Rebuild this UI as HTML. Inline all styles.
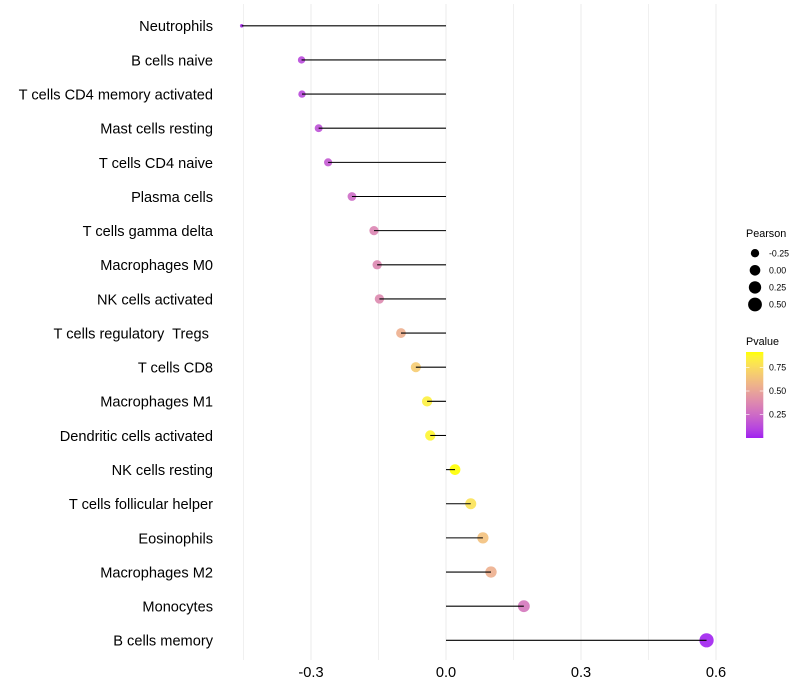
<!DOCTYPE html>
<html lang="en">
<head>
<meta charset="utf-8">
<title>Immune cell correlation lollipop chart</title>
<style>
html,body{margin:0;padding:0;background:#fff;width:800px;height:700px;overflow:hidden}
svg{display:block;font-family:"Liberation Sans",Arial,sans-serif}
text{white-space:pre}
</style>
</head>
<body>
<svg id="chart" xmlns="http://www.w3.org/2000/svg" width="800" height="700" viewBox="0 0 800 700"></svg>
<script>
var categories = ["Neutrophils","B cells naive","T cells CD4 memory activated","Mast cells resting","T cells CD4 naive","Plasma cells","T cells gamma delta","Macrophages M0","NK cells activated","T cells regulatory  Tregs ","T cells CD8","Macrophages M1","Dendritic cells activated","NK cells resting","T cells follicular helper","Eosinophils","Macrophages M2","Monocytes","B cells memory"];
var pearsonValues = [-0.454,-0.321,-0.32,-0.283,-0.262,-0.209,-0.16,-0.153,-0.148,-0.1,-0.067,-0.042,-0.035,0.02,0.055,0.082,0.1,0.173,0.579];
var pvalueValues = [0.03,0.12,0.12,0.15,0.18,0.25,0.36,0.37,0.38,0.55,0.68,0.84,0.87,0.915,0.78,0.63,0.55,0.3,0.005];
var xMajorTicks = [-0.3,0,0.3,0.6];
var xTickLabels = ["-0.3","0.0","0.3","0.6"];
var xMinorTicks = [-0.45,-0.15,0.15,0.45];
var sizeLegendValues = [-0.25,0,0.25,0.5];
var sizeLegendLabels = ["-0.25","0.00","0.25","0.50"];
var colorLegendValues = [0.25,0.5,0.75];
var colorLegendLabels = ["0.25","0.50","0.75"];

var svg = document.getElementById('chart');
var NS = 'http://www.w3.org/2000/svg';

function xScale(v){ return 446 + v * 450; }
function yScale(i){ return 25.8 + i * 34.14; }
function legendYScale(p){ return 438 - p * 94; }

function make(tag, attrs, parent){
  var el = document.createElementNS(NS, tag);
  for (var k in attrs) el.setAttribute(k, attrs[k]);
  (parent || svg).appendChild(el);
  return el;
}

var pearsonMin = Math.min.apply(null, pearsonValues);
var pearsonMax = Math.max.apply(null, pearsonValues);
function radiusScale(v){
  var t = (v - pearsonMin) / (pearsonMax - pearsonMin);
  var size = 1 + 5 * Math.sqrt(Math.max(0, t));
  return 0.375 * (size * 2.845 + 0.95) + 0.35;
}

function rgb2lab(c){
  var f = c.map(function(x){ x /= 255; return x > 0.04045 ? Math.pow((x + 0.055) / 1.055, 2.4) : x / 12.92; });
  var X = (0.4124 * f[0] + 0.3576 * f[1] + 0.1805 * f[2]) / 0.95047;
  var Y = 0.2126 * f[0] + 0.7152 * f[1] + 0.0722 * f[2];
  var Z = (0.0193 * f[0] + 0.1192 * f[1] + 0.9505 * f[2]) / 1.08883;
  function g(t){ return t > 0.008856 ? Math.cbrt(t) : 7.787 * t + 16 / 116; }
  return [116 * g(Y) - 16, 500 * (g(X) - g(Y)), 200 * (g(Y) - g(Z))];
}
function lab2rgb(l){
  var y = (l[0] + 16) / 116, x = l[1] / 500 + y, z = y - l[2] / 200;
  function h(t){ return t * t * t > 0.008856 ? t * t * t : (t - 16 / 116) / 7.787; }
  var X = 0.95047 * h(x), Y = h(y), Z = 1.08883 * h(z);
  var rgb = [3.2406 * X - 1.5372 * Y - 0.4986 * Z, -0.9689 * X + 1.8758 * Y + 0.0415 * Z, 0.0557 * X - 0.204 * Y + 1.057 * Z];
  return rgb.map(function(v){
    v = v > 0.0031308 ? 1.055 * Math.pow(v, 1 / 2.4) - 0.055 : 12.92 * v;
    return Math.round(Math.min(1, Math.max(0, v)) * 255);
  });
}
var labLow = rgb2lab([160,32,240]);
var labHigh = rgb2lab([255,255,0]);
var pMin = 0.0, pMax = 0.915;
function colorScale(p){
  var t = Math.min(1, Math.max(0, (p - pMin) / (pMax - pMin)));
  var c = lab2rgb([0,1,2].map(function(i){ return labLow[i] + (labHigh[i] - labLow[i]) * t; }));
  return 'rgb(' + c.join(',') + ')';
}

/* grid */
xMinorTicks.forEach(function(v){
  var el = make('line', {x1:xScale(v), x2:xScale(v), y1:4, y2:660, stroke:'#f0f0f0', 'stroke-width':1});
  
  
});
xMajorTicks.forEach(function(v){
  var el = make('line', {x1:xScale(v), x2:xScale(v), y1:4, y2:660, stroke:'#ebebeb', 'stroke-width':1});
  
  
});

/* points, stems, labels */
categories.forEach(function(name, i){
  var y = yScale(i);
  var dot = make('circle', {cx:xScale(pearsonValues[i]), cy:y, r:radiusScale(pearsonValues[i]), fill:colorScale(pvalueValues[i]), 'fill-opacity':0.9});
  
  
  var stem = make('line', {x1:xScale(0), x2:xScale(pearsonValues[i]), y1:y, y2:y, stroke:'#000', 'stroke-width':1.07});
  
  
  var label = make('text', {x:213, y:y + 5.4, 'text-anchor':'end', 'font-size':14.6, fill:'#000'});
  label.textContent = name;
  
  
});

/* x tick labels */
xMajorTicks.forEach(function(v, i){
  var t = make('text', {x:xScale(v), y:677, 'text-anchor':'middle', 'font-size':14.6, fill:'#000'});
  t.textContent = xTickLabels[i];
  
  
});

/* size legend */
var sizeTitle = make('text', {x:746, y:237, 'font-size':10.8, fill:'#000'});
sizeTitle.textContent = 'Pearson';


sizeLegendValues.forEach(function(v, i){
  var y = 253.2 + i * 17.1;
  var c = make('circle', {cx:755, cy:y, r:radiusScale(v), fill:'#000'});
  
  
  var t = make('text', {x:769, y:y + 3.1, 'font-size':8.8, fill:'#000'});
  t.textContent = sizeLegendLabels[i];
  
  
});

/* colour legend */
var colorTitle = make('text', {x:746, y:345, 'font-size':10.8, fill:'#000'});
colorTitle.textContent = 'Pvalue';


var defs = make('defs', {});
var grad = make('linearGradient', {id:'pvalue-gradient', x1:0, y1:1, x2:0, y2:0}, defs);
for (var s = 0; s <= 20; s++) {
  make('stop', {offset:(s / 20), 'stop-color':colorScale(pMin + (pMax - pMin) * s / 20)}, grad);
}
var bar = make('rect', {x:746, y:352, width:17.3, height:86, fill:'url(#pvalue-gradient)'});


colorLegendValues.forEach(function(v, i){
  var y = legendYScale(v);
  var t1 = make('line', {x1:746, x2:749.5, y1:y, y2:y, stroke:'#fff', 'stroke-width':0.8, 'stroke-opacity':0.8});
  
  
  var t2 = make('line', {x1:759.8, x2:763.3, y1:y, y2:y, stroke:'#fff', 'stroke-width':0.8, 'stroke-opacity':0.8});
  
  
  var t = make('text', {x:769, y:y + 3.1, 'font-size':8.8, fill:'#000'});
  t.textContent = colorLegendLabels[i];
  
  
});
</script>
</body>
</html>
